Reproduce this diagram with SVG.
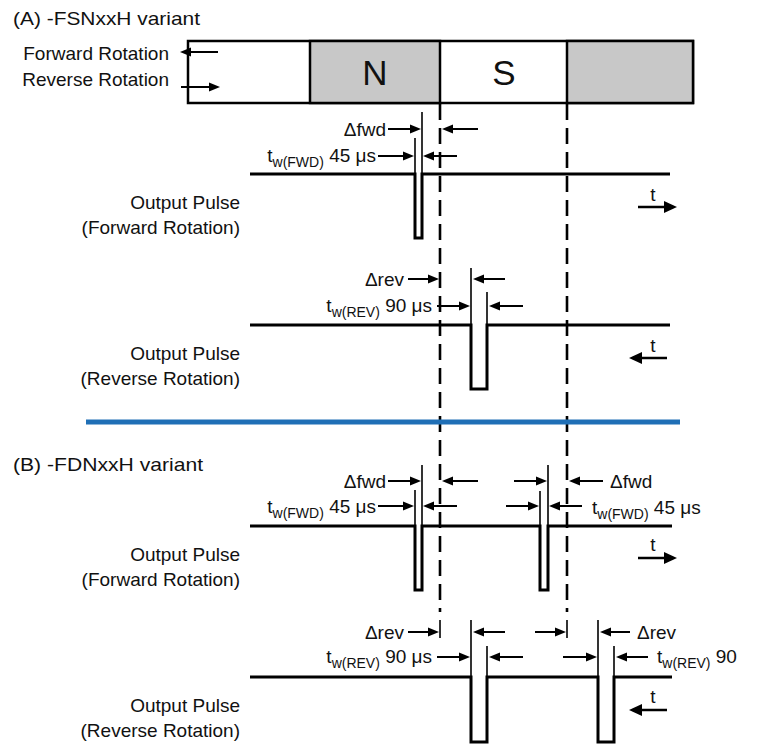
<svg xmlns="http://www.w3.org/2000/svg" width="757" height="745" viewBox="0 0 757 745">
<defs>
<style>
text{font-family:"Liberation Sans",Arial,sans-serif;font-size:19px;fill:#111}
.end{text-anchor:end}
.sub{font-size:14px}
.sig{fill:none;stroke:#000;stroke-width:3}
.tick{stroke:#000;stroke-width:1.6}
.arr{stroke:#000;stroke-width:2;marker-end:url(#ah)}
.tarr{stroke:#000;stroke-width:2.6;marker-end:url(#ahb)}
.dash{stroke:#000;stroke-width:2.6;stroke-dasharray:16 8}
</style>
<marker id="ah" markerUnits="userSpaceOnUse" markerWidth="12" markerHeight="10" refX="7" refY="5" orient="auto"><path d="M0,0.5 L11,5 L0,9.5 z" fill="#000"/></marker>
<marker id="ahb" markerUnits="userSpaceOnUse" markerWidth="14" markerHeight="13" refX="8" refY="6.5" orient="auto"><path d="M0,0.5 L13,6.5 L0,12.5 z" fill="#000"/></marker>
</defs>
<rect width="757" height="745" fill="#fff"/>

<g id="titleA"><text x="13" y="25" textLength="187" lengthAdjust="spacingAndGlyphs">(A) -FSNxxH variant</text></g>
<g id="magnet">
<rect x="188" y="41" width="505" height="62" fill="#fff" stroke="#000" stroke-width="2.5"/>
<rect x="310" y="41" width="130" height="62" fill="#c8c8c8" stroke="#000" stroke-width="2.5"/>
<rect x="567" y="41" width="126" height="62" fill="#c8c8c8" stroke="#000" stroke-width="2.5"/>
<text x="375" y="85" text-anchor="middle" style="font-size:35px">N</text>
<text x="504" y="85" text-anchor="middle" style="font-size:35px">S</text>
</g>
<g id="legend">
<text class="end" x="169" y="60">Forward Rotation</text>
<text class="end" x="169" y="86">Reverse Rotation</text>
<line class="arr" x1="218" y1="52" x2="184" y2="52"/>
<line class="arr" x1="181" y1="87" x2="216" y2="87"/>
</g>

<g id="connectors">
<line class="dash" x1="440" y1="104" x2="440" y2="612"/>
<line class="dash" x1="567" y1="104" x2="567" y2="612"/>
<line x1="86" y1="422" x2="680" y2="422" stroke="#1f6fb6" stroke-width="5"/>
</g>

<g id="pulseA_fwd">
<path class="sig" d="M250,174 H415 V238 H422 V174 H670"/>
<line class="tick" x1="422" y1="112" x2="422" y2="174"/>
<line class="tick" x1="415" y1="138" x2="415" y2="174"/>
<line class="arr" x1="388" y1="129" x2="417" y2="129"/>
<line class="arr" x1="478" y1="129" x2="446" y2="129"/>
<line class="arr" x1="378" y1="156" x2="410" y2="156"/>
<line class="arr" x1="457" y1="156" x2="427" y2="156"/>
<text class="end" x="386" y="136">Δfwd</text>
<text class="end" x="376" y="162">t<tspan class="sub" dy="5">w(FWD)</tspan><tspan dy="-5"> 45 μs</tspan></text>
<text class="end" x="240" y="209">Output Pulse</text>
<text class="end" x="240" y="234">(Forward Rotation)</text>
<line class="tarr" x1="638" y1="207" x2="672" y2="207"/>
<text x="653" y="201" text-anchor="middle">t</text>
</g>

<g id="pulseA_rev">
<path class="sig" d="M250,325 H471 V389 H487 V325 H670"/>
<line class="tick" x1="471" y1="268" x2="471" y2="325"/>
<line class="tick" x1="487" y1="292" x2="487" y2="325"/>
<line class="arr" x1="408" y1="279" x2="435" y2="279"/>
<line class="arr" x1="505" y1="279" x2="477" y2="279"/>
<line class="arr" x1="437" y1="306" x2="466" y2="306"/>
<line class="arr" x1="523" y1="306" x2="493" y2="306"/>
<text class="end" x="404" y="286">Δrev</text>
<text class="end" x="432" y="312">t<tspan class="sub" dy="5">w(REV)</tspan><tspan dy="-5"> 90 μs</tspan></text>
<text class="end" x="240" y="360">Output Pulse</text>
<text class="end" x="240" y="385">(Reverse Rotation)</text>
<line class="tarr" x1="667" y1="358" x2="634" y2="358"/>
<text x="653" y="352" text-anchor="middle">t</text>
</g>

<g id="titleB"><text x="13" y="471" textLength="190" lengthAdjust="spacingAndGlyphs">(B) -FDNxxH variant</text></g>

<g id="pulseB_fwd">
<path class="sig" d="M250,526 H415 V590 H422 V526 H540 V590 H548 V526 H672"/>
<line class="tick" x1="422" y1="465" x2="422" y2="526"/>
<line class="tick" x1="415" y1="490" x2="415" y2="526"/>
<line class="tick" x1="548" y1="465" x2="548" y2="526"/>
<line class="tick" x1="540" y1="491" x2="540" y2="526"/>
<line class="arr" x1="388" y1="481" x2="417" y2="481"/>
<line class="arr" x1="478" y1="481" x2="446" y2="481"/>
<line class="arr" x1="514" y1="481" x2="543" y2="481"/>
<line class="arr" x1="603" y1="481" x2="573" y2="481"/>
<line class="arr" x1="378" y1="506" x2="410" y2="506"/>
<line class="arr" x1="457" y1="506" x2="427" y2="506"/>
<line class="arr" x1="506" y1="506" x2="535" y2="506"/>
<line class="arr" x1="582" y1="506" x2="553" y2="506"/>
<text class="end" x="386" y="488">Δfwd</text>
<text class="end" x="376" y="513">t<tspan class="sub" dy="5">w(FWD)</tspan><tspan dy="-5"> 45 μs</tspan></text>
<text x="610" y="488">Δfwd</text>
<text x="592" y="514">t<tspan class="sub" dy="5">w(FWD)</tspan><tspan dy="-5"> 45 μs</tspan></text>
<text class="end" x="240" y="561">Output Pulse</text>
<text class="end" x="240" y="586">(Forward Rotation)</text>
<line class="tarr" x1="638" y1="558" x2="672" y2="558"/>
<text x="653" y="551" text-anchor="middle">t</text>
</g>

<g id="pulseB_rev">
<path class="sig" d="M250,677 H471 V742 H487 V677 H598 V742 H614 V677 H672"/>
<line class="tick" x1="440" y1="620" x2="440" y2="638"/>
<line class="tick" x1="567" y1="620" x2="567" y2="638"/>
<line class="tick" x1="471" y1="620" x2="471" y2="677"/>
<line class="tick" x1="487" y1="646" x2="487" y2="677"/>
<line class="tick" x1="598" y1="620" x2="598" y2="677"/>
<line class="tick" x1="614" y1="646" x2="614" y2="677"/>
<line class="arr" x1="408" y1="632" x2="435" y2="632"/>
<line class="arr" x1="505" y1="632" x2="477" y2="632"/>
<line class="arr" x1="535" y1="632" x2="562" y2="632"/>
<line class="arr" x1="630" y1="632" x2="604" y2="632"/>
<line class="arr" x1="437" y1="657" x2="466" y2="657"/>
<line class="arr" x1="523" y1="657" x2="493" y2="657"/>
<line class="arr" x1="563" y1="657" x2="593" y2="657"/>
<line class="arr" x1="648" y1="657" x2="620" y2="657"/>
<text class="end" x="404" y="639">Δrev</text>
<text class="end" x="432" y="663">t<tspan class="sub" dy="5">w(REV)</tspan><tspan dy="-5"> 90 μs</tspan></text>
<text x="637" y="639">Δrev</text>
<text x="657" y="663">t<tspan class="sub" dy="5">w(REV)</tspan><tspan dy="-5"> 90</tspan></text>
<text class="end" x="240" y="712">Output Pulse</text>
<text class="end" x="240" y="737">(Reverse Rotation)</text>
<line class="tarr" x1="667" y1="710" x2="634" y2="710"/>
<text x="653" y="703" text-anchor="middle">t</text>
</g>
</svg>
